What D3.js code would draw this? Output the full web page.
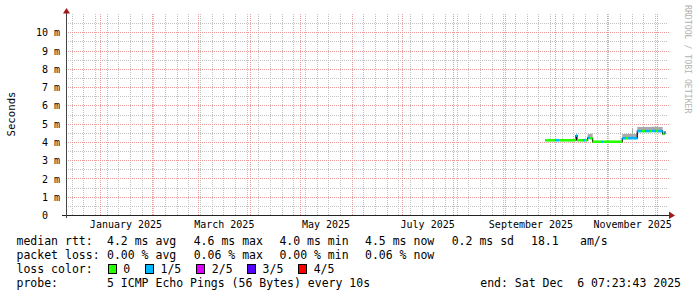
<!DOCTYPE html>
<html><head><meta charset="utf-8">
<script src="https://cdn.jsdelivr.net/npm/d3@7"></script>
<style>
body{margin:0;background:#fff}
svg{display:block}
text{font-family:"DejaVu Sans Mono",monospace;fill:#000;white-space:pre}
</style>
</head><body>
<svg id="chart" width="697" height="297"></svg>
<script>
// ---------- data ----------
const startTime = "2024-12-11T07:23:43Z";
const endTime = "2025-12-06T07:23:43Z";
const yTicks = [0,1,2,3,4,5,6,7,8,9,10];
const monthLabels = ["January 2025","March 2025","May 2025","July 2025","September 2025","November 2025"];
const monthLabelDates = ["2025-01-16","2025-03-16","2025-05-16","2025-07-16","2025-09-16","2025-11-16"];
const sampleTimes = ["2025-09-24T17:00Z","2025-10-01T02:00Z","2025-10-03T02:00Z","2025-10-12T17:00Z","2025-10-13T07:00Z","2025-10-13T22:00Z","2025-10-17T12:00Z","2025-10-18T17:00Z","2025-10-20T07:00Z","2025-10-21T17:00Z","2025-10-23T07:00Z","2025-10-28T17:00Z","2025-10-29T17:00Z","2025-11-10T02:00Z","2025-11-12T07:00Z","2025-11-13T12:00Z","2025-11-15T22:00Z","2025-11-16T12:00Z","2025-11-19T02:00Z","2025-11-21T22:00Z","2025-11-23T17:00Z","2025-11-26T17:00Z","2025-11-27T22:00Z","2025-11-30T07:00Z","2025-12-01T12:00Z","2025-12-04T07:00Z","2025-12-05T10:00Z"];
const medianMs = [4.09,4.09,4.09,4.11,4.35,4.09,4.09,4.09,4.22,4.20,4.01,4.01,4.01,4.20,4.20,4.20,4.22,4.20,4.59,4.59,4.59,4.59,4.60,4.60,4.59,4.44,4.52];
const smokeTopMs = [4.12,4.12,4.12,4.14,4.40,4.12,4.12,4.12,4.43,4.45,4.03,4.03,4.03,4.43,4.43,4.44,4.76,4.43,4.82,4.82,4.82,4.82,4.83,4.83,4.82,4.47,4.55];
const lossCount = [0,1,0,0,1,0,1,0,1,0,0,1,0,1,0,1,1,1,1,0,1,0,1,0,1,0,1];
const lossLabels = ["0","1/5","2/5","3/5","4/5"];
const lossColors = ["#26ff00","#00b8ff","#dd00ff","#5500ff","#ff0000"];
const rttStats = ["4.2 ms avg","4.6 ms max","4.0 ms min","4.5 ms now","0.2 ms sd","18.1","am/s"];
const lossStats = ["0.00 % avg","0.06 % max","0.00 % min","0.06 % now"];
const rowTitles = ["median rtt:","packet loss:","loss color:","probe:"];
const probeText = "5 ICMP Echo Pings (56 Bytes) every 10s";
const endText = "end: Sat Dec  6 07:23:43 2025";

// ---------- layout ----------
const svg = d3.select("#chart");
const X0 = 66, X1 = 666, Y0 = 215, YT = 14;
const x = d3.scaleUtc().domain([new Date(startTime), new Date(endTime)]).range([X0, X1]);
const y = d3.scaleLinear().domain([0, 11]).range([Y0, YT]);
const px = v => Math.floor(v) + 0.5;
const py = v => Math.round(v) + 0.5;

// grid
const g = svg.append("g").attr("shape-rendering","crispEdges");
const minorY = d3.range(0.5, 11, 1);
g.selectAll(".hmin").data(minorY).join("line")
  .attr("x1", X0).attr("x2", 668).attr("y1", d=>py(y(d))).attr("y2", d=>py(y(d)))
  .attr("stroke","#c2c2c2").attr("stroke-dasharray","1,1");
const weeks = d3.utcSunday.range(new Date(startTime), new Date(endTime));
g.selectAll(".vmin").data(weeks).join("line")
  .attr("x1", d=>px(x(d))).attr("x2", d=>px(x(d))).attr("y1", YT).attr("y2", Y0)
  .attr("stroke","#c2c2c2").attr("stroke-dasharray","1,1");
g.selectAll(".hmaj").data(yTicks.slice(1)).join("line")
  .attr("x1", X0).attr("x2", 669).attr("y1", d=>py(y(d))).attr("y2", d=>py(y(d)))
  .attr("stroke","#eb9a9a").attr("stroke-dasharray","1,1");
const months = d3.utcMonth.range(new Date(startTime), new Date(endTime));
g.selectAll(".vmaj").data(months).join("line")
  .attr("x1", d=>px(x(d))).attr("x2", d=>px(x(d))).attr("y1", YT).attr("y2", Y0)
  .attr("stroke","#eb9a9a").attr("stroke-dasharray","1,1");

// data: smoke
const samples = sampleTimes.map((t,i)=>({
  t0: new Date(t),
  t1: i < sampleTimes.length-1 ? new Date(sampleTimes[i+1]) : new Date(endTime),
  med: medianMs[i], top: smokeTopMs[i], loss: lossCount[i]
}));
const dg = svg.append("g");
dg.selectAll(".smoke").data(samples).join("rect")
  .attr("x", d=>x(d.t0)).attr("width", d=>Math.max(0.8, x(d.t1)-x(d.t0)))
  .attr("y", d=>y(d.top)).attr("height", d=>Math.max(0, y(d.med)-y(d.top)))
  .attr("fill","#a9a9a9");
// median step connector
const stepLine = d3.line().x(d=>d[0]).y(d=>d[1]).curve(d3.curveStepAfter);
const stepPts = samples.map(d=>[x(d.t0), y(d.med)]);
stepPts.push([x(new Date(endTime)), y(samples[samples.length-1].med)]);
dg.append("path").attr("d", stepLine(stepPts)).attr("fill","none").attr("stroke","#111").attr("stroke-width",1.2);
dg.selectAll(".med").data(samples).join("line")
  .attr("x1", d=>x(d.t0)).attr("x2", d=>x(d.t1))
  .attr("y1", d=>y(d.med)).attr("y2", d=>y(d.med))
  .attr("stroke", d=>lossColors[d.loss]).attr("stroke-width",2.6);

// axes lines
const ax = svg.append("g").attr("shape-rendering","crispEdges");
ax.append("line").attr("x1",62).attr("x2",670).attr("y1",Y0+0.5).attr("y2",Y0+0.5).attr("stroke","#222");
ax.append("line").attr("x1",X0+0.5).attr("x2",X0+0.5).attr("y1",12).attr("y2",Y0+3).attr("stroke","#444");
svg.append("path").attr("d","M63,13.5 L70,13.5 L66.5,8 Z").attr("fill","#a11a1a");
svg.append("path").attr("d","M669,211.5 L669,219 L675,215.5 Z").attr("fill","#a11a1a");

// y axis labels
const yAxis = d3.axisLeft(y).tickValues(yTicks).tickSize(0).tickPadding(6)
  .tickFormat(d => d === 0 ? "0" : d + " m");
const yg = svg.append("g").attr("transform",`translate(${X0},0.4)`).call(yAxis);
yg.select(".domain").remove();
yg.selectAll("text").attr("font-family","DejaVu Sans Mono").attr("font-size","10px").attr("fill","#000")
  .attr("x", d => d === 0 ? -18 : -6);

// x axis labels
const xAxis = d3.axisBottom(x).tickValues(monthLabelDates.map(s=>new Date(s+"T00:00:00Z")))
  .tickSize(0).tickPadding(5.5).tickFormat((d,i)=>monthLabels[i]);
const xg = svg.append("g").attr("transform",`translate(0,${Y0})`).call(xAxis);
xg.select(".domain").remove();
xg.selectAll("text").attr("font-family","DejaVu Sans Mono").attr("font-size","10px").attr("fill","#000");

// y title
svg.append("text").attr("transform","translate(14.8,114) rotate(-90)")
  .attr("text-anchor","middle").attr("font-size","10.7px").text("Seconds");
// watermark
svg.append("text").attr("transform","translate(685.2,5) rotate(90)")
  .attr("font-size","8.2px").style("fill","#b3b3b3").text("RRDTOOL / TOBI OETIKER");

// legend
const fs = "11.5px";
const baselines = [245, 259, 273, 287];
rowTitles.forEach((t,i)=>svg.append("text").attr("x",16.5).attr("y",baselines[i]).attr("font-size",fs).text(t));
const rttX = [107, 193.7, 279.4, 365, 451.7, 531, 580];
rttStats.forEach((t,i)=>svg.append("text").attr("x",rttX[i]).attr("y",baselines[0]).attr("font-size",fs).text(t));
lossStats.forEach((t,i)=>svg.append("text").attr("x",rttX[i]).attr("y",baselines[1]).attr("font-size",fs).text(t));
const boxX = [108.5, 145.5, 196.5, 247.5, 298.5];
const lblX = [123.3, 160.5, 211.8, 262.6, 313.7];
lossLabels.forEach((t,i)=>{
  svg.append("rect").attr("x",boxX[i]).attr("y",264.5).attr("width",8).attr("height",9)
    .attr("fill",lossColors[i]).attr("stroke","#000").attr("shape-rendering","crispEdges");
  svg.append("text").attr("x",lblX[i]).attr("y",baselines[2]).attr("font-size",fs).text(t);
});
svg.append("text").attr("x",107).attr("y",baselines[3]).attr("font-size",fs).text(probeText);
svg.append("text").attr("x",681).attr("y",baselines[3]).attr("text-anchor","end").attr("font-size",fs).text(endText);
</script>
</body></html>
